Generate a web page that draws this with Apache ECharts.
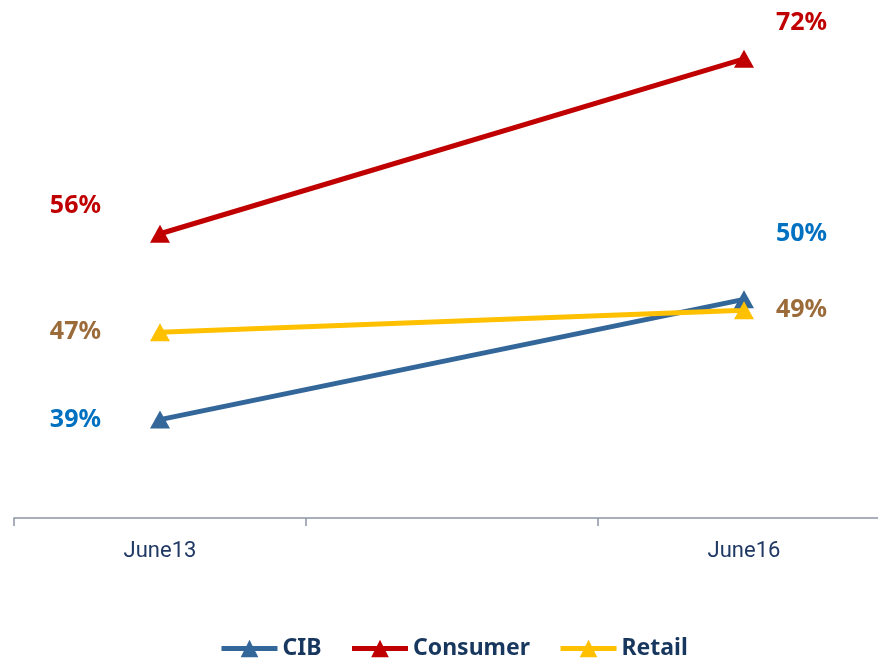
<!DOCTYPE html>
<html>
<head>
<meta charset="utf-8">
<script src="https://cdn.jsdelivr.net/npm/echarts@6/dist/echarts.min.js"></script>
<style>
  html, body { margin: 0; padding: 0; background: #fff; overflow: hidden; }
  /* the axis runs past the right edge of the frame, so the canvas is a bit wider */
  #chart { width: 890px; height: 658px; }
</style>
</head>
<body>
<div id="chart"></div>
<script>
// categories: middle slot is an empty gap between the two dates
const categories = ['June13', '', 'June16'];
const cib = [39, null, 50];
const consumer = [56, null, 72];
const retail = [47, null, 49];

const labelFont = "'Noto Sans', 'DejaVu Sans', sans-serif";

// left-side labels sit left of the point, right-side labels to the right
function pointLabels(values, color, leftOffset, rightOffset) {
  return values.map((v, i) => {
    if (v == null) return v;
    const isLeft = i === 0;
    return {
      value: v,
      label: {
        show: true,
        position: isLeft ? 'left' : 'right',
        distance: isLeft ? 49 : 22,
        offset: isLeft ? leftOffset : rightOffset,
        formatter: '{c}%',
        color: color,
        fontFamily: labelFont,
        fontWeight: 'bold',
        fontSize: 25
      }
    };
  });
}

function makeSeries(name, values, lineColor, labelColor, leftOffset, rightOffset) {
  return {
    name: name,
    type: 'line',
    data: pointLabels(values, labelColor, leftOffset, rightOffset),
    connectNulls: true,
    symbol: 'triangle',
    symbolSize: [20, 18],
    lineStyle: { color: lineColor, width: 5 },
    itemStyle: { color: lineColor },
    emphasis: { disabled: true }
  };
}

const chart = echarts.init(document.getElementById('chart'));

chart.setOption({
  animation: false,
  grid: { left: 14, right: 0, top: 26, bottom: 140 },
  legend: {
    top: 632,
    left: 214,
    itemWidth: 56,
    itemHeight: 22,
    itemGap: 28,
    lineStyle: { width: 5 },
    textStyle: {
      color: '#17375E',
      fontFamily: labelFont,
      fontWeight: 'bold',
      fontSize: 23
    },
    data: ['CIB', 'Consumer', 'Retail']
  },
  xAxis: {
    type: 'category',
    data: categories,
    boundaryGap: true,
    axisLine: { lineStyle: { color: '#8C94A4', width: 1.5 } },
    axisTick: { show: true, length: 8, lineStyle: { color: '#8C94A4', width: 1.5 } },
    axisLabel: {
      color: '#1F3864',
      fontFamily: "'Liberation Sans Narrow', 'Roboto', sans-serif",
      fontSize: 22,
      margin: 22
    }
  },
  yAxis: {
    type: 'value',
    min: 30,
    max: 75,
    show: false
  },
  series: [
    makeSeries('CIB', cib, '#336699', '#0070C0', [0, 0], [0, -65]),
    makeSeries('Consumer', consumer, '#C00000', '#C00000', [0, -28], [0, -36]),
    makeSeries('Retail', retail, '#FFC000', '#9B6B3A', [0, 0], [0, 0])
  ]
});
</script>
</body>
</html>
